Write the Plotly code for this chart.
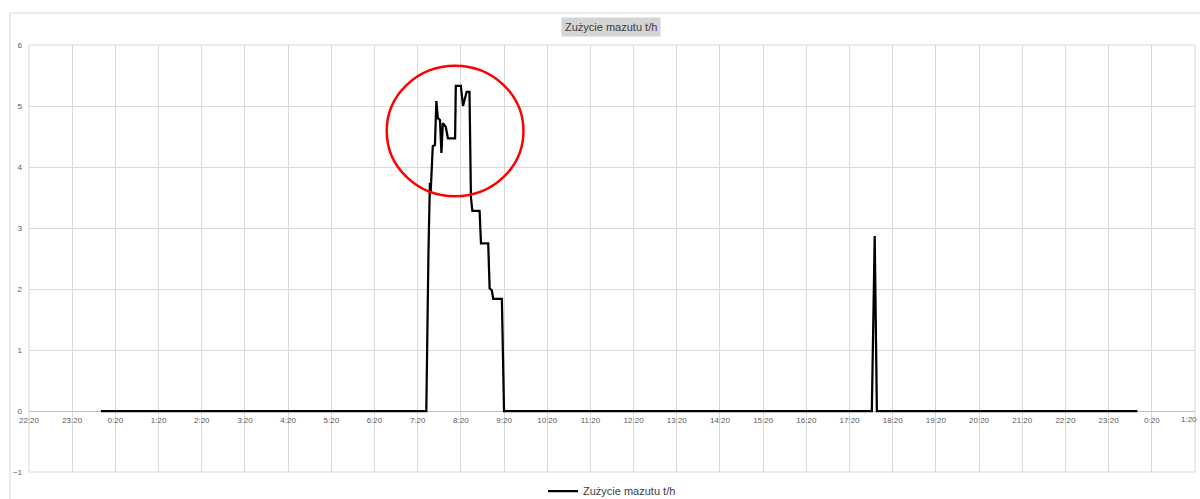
import plotly.graph_objects as go

# Hourly fuel-oil consumption log for one day (time of day, t/h)
times = ["00:00", "07:32", "07:35", "07:37", "07:38", "07:41", "07:44", "07:46",
         "07:48", "07:51", "07:53", "07:55", "07:59", "08:02", "08:12", "08:13",
         "08:20", "08:23", "08:28", "08:32", "08:34", "08:36", "08:46", "08:48",
         "08:58", "09:00", "09:03", "09:05", "09:17", "09:20",
         "17:51", "17:55", "17:58", "24:00"]
values = [0, 0, 2.6, 3.74, 3.57, 4.34, 4.36, 5.08,
          4.80, 4.77, 4.23, 4.72, 4.66, 4.47, 4.47, 5.33,
          5.33, 5.00, 5.23, 5.23, 3.50, 3.28, 3.28, 2.75,
          2.75, 2.01, 1.98, 1.84, 1.84, 0,
          0, 2.87, 0, 0]

series_name = "Zużycie mazutu t/h"
day = "2024-01-02"
next_day = "2024-01-03"
x_range = ["2024-01-01 22:20", "2024-01-03 01:20"]
y_range = [-1, 6]

# Highlighted region around the morning peak (time window, value band)
highlight_x = ["2024-01-02 06:37", "2024-01-02 09:47"]
highlight_y = [3.52, 5.66]


def stamp(t):
    if t == "24:00":
        return f"{next_day} 00:00"
    return f"{day} {t}"


xs = [stamp(t) for t in times]

grid = "#d9d9d9"
label_color = "#595959"
font_family = "Liberation Sans, Arial, sans-serif"

fig = go.Figure()
fig.add_trace(go.Scatter(
    x=xs, y=values, mode="lines", name=series_name,
    line=dict(color="black", width=2.25),
))

W, H = 1200, 499
ml, mr, mt, mb = 29, 5, 45, 27
plot_h = H - mt - mb
plot_w = W - ml - mr

fig.update_layout(
    width=W, height=H,
    margin=dict(l=ml, r=mr, t=mt, b=mb, autoexpand=False),
    paper_bgcolor="white", plot_bgcolor="white",
    font=dict(family=font_family, color=label_color, size=8),
    showlegend=True,
    legend=dict(orientation="h", x=0.5, xanchor="center",
                y=-19 / plot_h, yanchor="middle",
                font=dict(size=11, color="#404040"),
                itemwidth=30, bgcolor="rgba(0,0,0,0)"),
    xaxis=dict(
        type="date", range=x_range,
        tick0="2024-01-01 22:20", dtick=3600000, tickformat="%-H:%M",
        showgrid=True, gridcolor=grid, gridwidth=1,
        showline=False, zeroline=False, ticks="",
        anchor="free", position=1 / 7,
        tickfont=dict(size=8, color=label_color),
        ticklabelstandoff=3,
    ),
    yaxis=dict(
        range=y_range, dtick=1,
        showgrid=True, gridcolor=grid, gridwidth=1,
        zeroline=True, zerolinecolor="#bfbfbf", zerolinewidth=1,
        showline=False, ticks="",
        tickfont=dict(size=8, color=label_color),
        ticklabelstandoff=6,
    ),
    shapes=[
        # outer chart frame
        dict(type="rect", xref="paper", yref="paper",
             x0=(10 - ml) / plot_w, x1=1.05,
             y0=-0.2, y1=(H - mb - 13) / plot_h,
             line=dict(color="#d9d9d9", width=1), layer="below"),
        # plot-area border (closes the grid at the range edges)
        dict(type="rect", xref="paper", yref="paper",
             x0=0, x1=1, y0=0, y1=1,
             line=dict(color=grid, width=1), layer="below"),
        # red highlight ellipse
        dict(type="circle", xref="x", yref="y",
             x0=highlight_x[0], x1=highlight_x[1],
             y0=highlight_y[0], y1=highlight_y[1],
             line=dict(color="red", width=2.5)),
    ],
    annotations=[
        dict(text=series_name, xref="paper", yref="paper",
             x=(611 - ml) / plot_w, xanchor="center",
             y=1 + (mt - 27) / plot_h, yanchor="middle",
             showarrow=False, bgcolor="#d4d4d4",
             font=dict(size=11, color="#404040"), borderpad=3),
        # label for the final grid column at the right edge
        dict(text="1:20", xref="x", yref="y",
             x=x_range[1], y=0, xanchor="right", xshift=4,
             yanchor="top", yshift=-2,
             showarrow=False, font=dict(size=8, color=label_color)),
    ],
)

fig.write_html("out.html")
